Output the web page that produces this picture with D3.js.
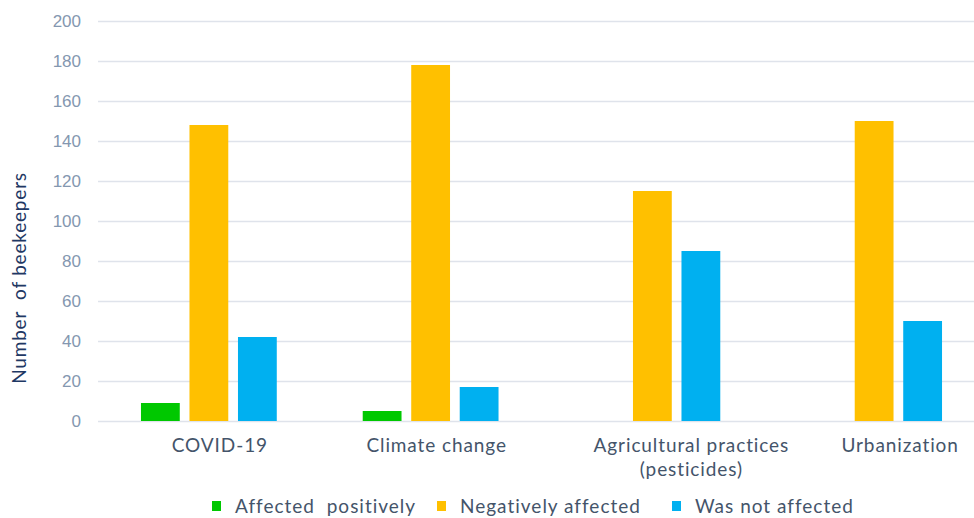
<!DOCTYPE html>
<html>
<head>
<meta charset="utf-8">
<script src="https://cdn.jsdelivr.net/npm/d3@7"></script>
<style>
  html, body { margin: 0; padding: 0; background: #fff; }
  svg { display: block; }
</style>
</head>
<body>
<svg id="chart" width="974" height="518"></svg>
<script>
// Survey data: how each factor affected the beekeepers
const categories = ["COVID-19", "Climate change", "Agricultural practices\n(pesticides)", "Urbanization"];
const seriesNames = ["Affected  positively", "Negatively affected", "Was not affected"];
const affectedPositively = [9, 5, 0, 0];
const negativelyAffected = [148, 178, 115, 150];
const wasNotAffected = [42, 17, 85, 50];
const yTicks = [0, 20, 40, 60, 80, 100, 120, 140, 160, 180, 200];

const colors = ["#00c800", "#ffc000", "#00b0f0"];
const seriesValues = [affectedPositively, negativelyAffected, wasNotAffected];

const svg = d3.select("#chart");
const plotLeft = 98, plotRight = 985, plotTop = 21, plotBottom = 421;

const y = d3.scaleLinear().domain([0, 200]).range([plotBottom, plotTop]);
const x0 = d3.scaleBand().domain(categories).range([plotLeft, plotRight]);
const x1 = d3.scaleBand().domain(seriesNames).range([0, x0.bandwidth()])
  .paddingInner(0.2).paddingOuter(0.886);

// Horizontal gridlines
const yAxis = d3.axisLeft(y).tickValues(yTicks).tickSize(-(974 - plotLeft)).tickPadding(17);
const gy = svg.append("g").attr("transform", `translate(${plotLeft},0)`).call(yAxis);
gy.select(".domain").remove();
gy.selectAll(".tick line").attr("stroke", "#dfe3eb").attr("stroke-width", 1.6);
gy.selectAll(".tick text")
  .attr("fill", "#8497b0")
  .style("font-family", "'Liberation Sans', Arial, sans-serif")
  .style("font-size", "17px");

// Bars
const rows = [];
categories.forEach((c, i) => {
  seriesNames.forEach((s, j) => rows.push({ cat: c, series: s, value: seriesValues[j][i], color: colors[j] }));
});
svg.append("g").selectAll("rect")
  .data(rows.filter(d => d.value > 0))
  .join("rect")
  .attr("x", d => x0(d.cat) + x1(d.series))
  .attr("width", x1.bandwidth())
  .attr("y", d => y(d.value))
  .attr("height", d => y(0) - y(d.value))
  .attr("fill", d => d.color);

// Category labels
const labelShift = [11, 6, 39, 26];
const labelFont = "Lato, 'Open Sans', sans-serif";
const catG = svg.append("g");
categories.forEach((c, i) => {
  const t = catG.append("text")
    .attr("x", x0(c) + x0.bandwidth() / 2 + labelShift[i])
    .attr("y", 452)
    .attr("text-anchor", "middle")
    .attr("fill", "#44546a")
    .style("font-family", labelFont)
    .style("font-size", "19px")
    .style("letter-spacing", "0.9px");
  c.split("\n").forEach((line, k) => {
    t.append("tspan")
      .attr("x", x0(c) + x0.bandwidth() / 2 + labelShift[i])
      .attr("dy", k === 0 ? 0 : 24)
      .text(line);
  });
});

// Y axis title
svg.append("text")
  .attr("transform", `translate(26,278) rotate(-90)`)
  .attr("text-anchor", "middle")
  .attr("fill", "#1f3864")
  .style("font-family", labelFont)
  .style("font-size", "19px")
  .style("letter-spacing", "0.8px")
  .style("white-space", "pre")
  .text("Number  of beekeepers");

// Legend
const legendX = [212, 437, 672];
const legend = svg.append("g");
seriesNames.forEach((s, j) => {
  legend.append("rect")
    .attr("x", legendX[j]).attr("y", 501)
    .attr("width", 9).attr("height", 10)
    .attr("fill", colors[j]);
  legend.append("text")
    .attr("x", legendX[j] + 23).attr("y", 513)
    .attr("fill", "#44546a")
    .style("font-family", labelFont)
    .style("font-size", "19px")
    .style("letter-spacing", "1px")
    .style("white-space", "pre")
    .text(s);
});
</script>
</body>
</html>
